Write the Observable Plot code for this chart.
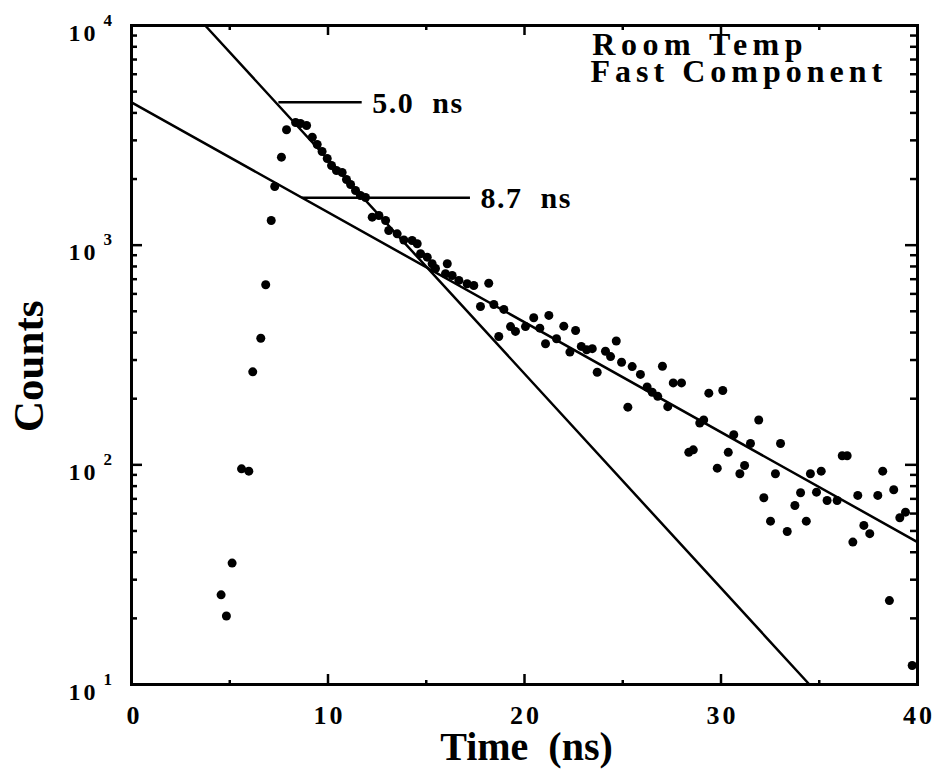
<!DOCTYPE html>
<html><head><meta charset="utf-8">
<script src="https://cdn.jsdelivr.net/npm/d3@7"></script>
<script src="https://cdn.jsdelivr.net/npm/@observablehq/plot@0.6"></script>
<style>
html,body{margin:0;padding:0;background:#fff;}
svg text{white-space:pre;}
</style></head><body><div id="chart"></div>
<script>
// Measured decay data (Time in ns, Counts)
const times = [
 4.56, 4.83, 5.12, 5.60, 5.97, 6.17, 6.58, 6.83, 7.11, 7.29,
 7.63, 7.89, 8.35, 8.60, 8.91, 9.20, 9.45, 9.70, 9.96, 10.18,
 10.43, 10.72, 10.94, 11.15, 11.40, 11.65, 11.91, 12.25, 12.59, 12.93,
 13.09, 13.52, 13.86, 14.28, 14.54, 14.71, 15.05, 15.30, 15.47, 15.98,
 16.07, 16.32, 16.66, 17.08, 17.42, 17.76, 18.18, 18.44, 18.69, 18.95,
 19.29, 19.54, 20.05, 20.47, 20.78, 21.07, 21.24, 21.63, 22.00, 22.31,
 22.60, 22.89, 23.16, 23.45, 23.70, 24.12, 24.38, 24.67, 24.94, 25.26,
 25.48, 25.90, 26.24, 26.50, 26.78, 27.02, 27.29, 27.57, 27.99, 28.36,
 28.59, 28.92, 29.12, 29.38, 29.81, 30.09, 30.37, 30.65, 30.96, 31.20,
 31.50, 31.92, 32.18, 32.52, 32.77, 33.03, 33.37, 33.76, 34.05, 34.34,
 34.55, 34.86, 35.10, 35.40, 35.91, 36.17, 36.42, 36.71, 36.96, 37.27,
 37.57, 37.98, 38.23, 38.57, 38.79, 39.10, 39.39, 39.73
];
const counts = [
 25.6, 20.5, 35.7, 95.9, 93.6, 265, 377, 660, 1295, 1850,
 2515, 3351, 3618, 3580, 3505, 3100, 2873, 2670, 2481, 2305,
 2188, 2142, 1991, 1889, 1774, 1684, 1649, 1341, 1365, 1295,
 1166, 1126, 1056, 1050, 1015, 914, 882, 823, 783, 741,
 823, 728, 691, 667, 655, 526, 671, 537, 384, 510,
 426, 405, 426, 467, 419, 356, 479, 375, 428, 326,
 409, 346, 334, 338, 264, 329, 311, 366, 293, 183,
 280, 258, 226, 214, 205, 281, 184, 236, 236, 114,
 117, 155, 160, 212, 96.6, 218, 114, 137, 91.1, 99.3,
 125, 160, 70.8, 55.4, 91.1, 125, 49.7, 65.3, 74.6, 55.4,
 91.1, 75.1, 93.6, 68.8, 68.8, 110, 110, 44.5, 72.6, 53.0,
 48.6, 72.6, 93.6, 24.1, 77.0, 57.4, 60.9, 12.2
];

// Fitted exponential lines (endpoints)
const fastFitT = [3.75, 34.5];
const fastFitC = [10000, 10];
const slowFitT = [0, 40];
const slowFitC = [4470, 44.5];

// Fit annotations
const fitLabels = ["5.0  ns", "8.7  ns"];
const fitLabelCounts = [4477, 1643];
const fitLeaderStart = [7.5, 8.69];
const fitLeaderEnd = [11.74, 17.25];
const fitLabelT = [12.25, 17.76];

// Axis ticks
const xTickVals = [0, 10, 20, 30, 40];
const xTickLabels = ["0", "10", "20", "30", "40"];
const xMajorTicks = [10, 20, 30];
const xMinorTicks = [5, 15, 25, 35];
const yMajor = [10, 100, 1000, 10000];
const yExponents = ["1", "2", "3", "4"];
const yMinor = [20,30,40,50,60,70,80,90,200,300,400,500,600,700,800,900,2000,3000,4000,5000,6000,7000,8000,9000];

const serif = '"Liberation Serif","Times New Roman",serif';

const W = 935, H = 778, ML = 131, MR = 18, MT = 25, MB = 94;
const xDomain = [0, 40], yDomain = [10, 10000];

// standalone copies of the plot's scales, used to turn tick lengths (px) into data extents
const xs = Plot.scale({x: {domain: xDomain, range: [ML, W - MR]}});
const ys = Plot.scale({y: {type: "log", domain: yDomain, range: [H - MB, MT]}});
const xIn = (px) => xs.invert(ML + px);
const xInR = (px) => xs.invert(W - MR - px);
const yInB = (px) => ys.invert(H - MB - px);
const yInT = (px) => ys.invert(MT + px);
const tk = {stroke: "black", strokeWidth: 2.5};

const chart = Plot.plot({
  width: W, height: H,
  marginLeft: ML, marginRight: MR, marginTop: MT, marginBottom: MB,
  style: {background: "#fff", color: "#000", fontFamily: serif},
  x: {domain: xDomain, axis: null},
  y: {type: "log", domain: yDomain, axis: null},
  marks: [
    Plot.frame({fill: "none", stroke: "black", strokeWidth: 3}),

    // fitted lines
    Plot.line(fastFitT, {x: fastFitT, y: fastFitC, stroke: "black", strokeWidth: 2.5}),
    Plot.line(slowFitT, {x: slowFitT, y: slowFitC, stroke: "black", strokeWidth: 2.5}),

    // data
    Plot.dot(times, {x: times, y: counts, r: 4.5, fill: "black", stroke: null}),

    // leaders and fit labels
    Plot.ruleY(fitLabelCounts, {y: fitLabelCounts, x1: fitLeaderStart, x2: fitLeaderEnd, stroke: "black", strokeWidth: 2.5}),
    Plot.text(fitLabels, {x: fitLabelT, y: fitLabelCounts, text: fitLabels, textAnchor: "start", lineAnchor: "middle", dy: 1, fontSize: 30, fontWeight: "bold"}),

    // Room temp annotation
    Plot.text(["Room Temp"], {x: 23.45, y: 7304, textAnchor: "start", lineAnchor: "bottom", fontSize: 32, fontWeight: "bold"}),
    Plot.text(["Fast Component"], {x: 23.36, y: 5521, textAnchor: "start", lineAnchor: "bottom", fontSize: 32, fontWeight: "bold"}),

    // x tick labels
    Plot.text(xTickVals, {x: xTickVals, text: xTickLabels, frameAnchor: "bottom", lineAnchor: "bottom", dy: 39, dx: 1.5, fontSize: 26, fontWeight: "bold"}),
    // y tick labels 10^n
    Plot.text(yMajor, {y: yMajor, text: () => "10", frameAnchor: "left", textAnchor: "end", lineAnchor: "bottom", dx: -33, dy: 15, fontSize: 24, fontWeight: "bold"}),
    Plot.text(yMajor, {y: yMajor, text: yExponents, frameAnchor: "left", textAnchor: "start", lineAnchor: "bottom", dx: -28, dy: 0, fontSize: 17, fontWeight: "bold"}),

    // axis titles
    Plot.text(["Time  (ns)"], {frameAnchor: "bottom", lineAnchor: "bottom", dy: 75, dx: 2, fontSize: 40, fontWeight: "bold"}),
    Plot.text(["Counts"], {frameAnchor: "left", rotate: -90, lineAnchor: "bottom", dx: -89, dy: 77, fontSize: 43, fontWeight: "bold"}),

    // inward ticks on all four sides (drawn last)
    Plot.ruleY(yMajor, {y: yMajor, x1: xDomain[0], x2: xIn(11), ...tk}),
    Plot.ruleY(yMinor, {y: yMinor, x1: xDomain[0], x2: xIn(6), ...tk}),
    Plot.ruleY(yMajor, {y: yMajor, x1: xInR(12), x2: xDomain[1], ...tk}),
    Plot.ruleY(yMinor, {y: yMinor, x1: xInR(7), x2: xDomain[1], ...tk}),
    Plot.ruleX(xMajorTicks, {x: xMajorTicks, y1: yDomain[0], y2: yInB(10), ...tk}),
    Plot.ruleX(xMinorTicks, {x: xMinorTicks, y1: yDomain[0], y2: yInB(4), ...tk}),
    Plot.ruleX(xMajorTicks, {x: xMajorTicks, y1: yInT(10), y2: yDomain[1], ...tk}),
    Plot.ruleX(xMinorTicks, {x: xMinorTicks, y1: yInT(5), y2: yDomain[1], ...tk})
  ]
});

document.getElementById("chart").appendChild(chart);

// letter spacing adjustments to match the reference typesetting
d3.select(chart).selectAll("text").each(function() {
  const t = this.textContent;
  if (t === "Room Temp") this.style.letterSpacing = "5.5px";
  else if (t === "Fast Component") this.style.letterSpacing = "5px";
  else if (xTickLabels.includes(t) && t.length === 2) this.style.letterSpacing = "3px";
  else if (fitLabels.includes(t)) this.style.letterSpacing = "1.5px";
});
</script></body></html>
